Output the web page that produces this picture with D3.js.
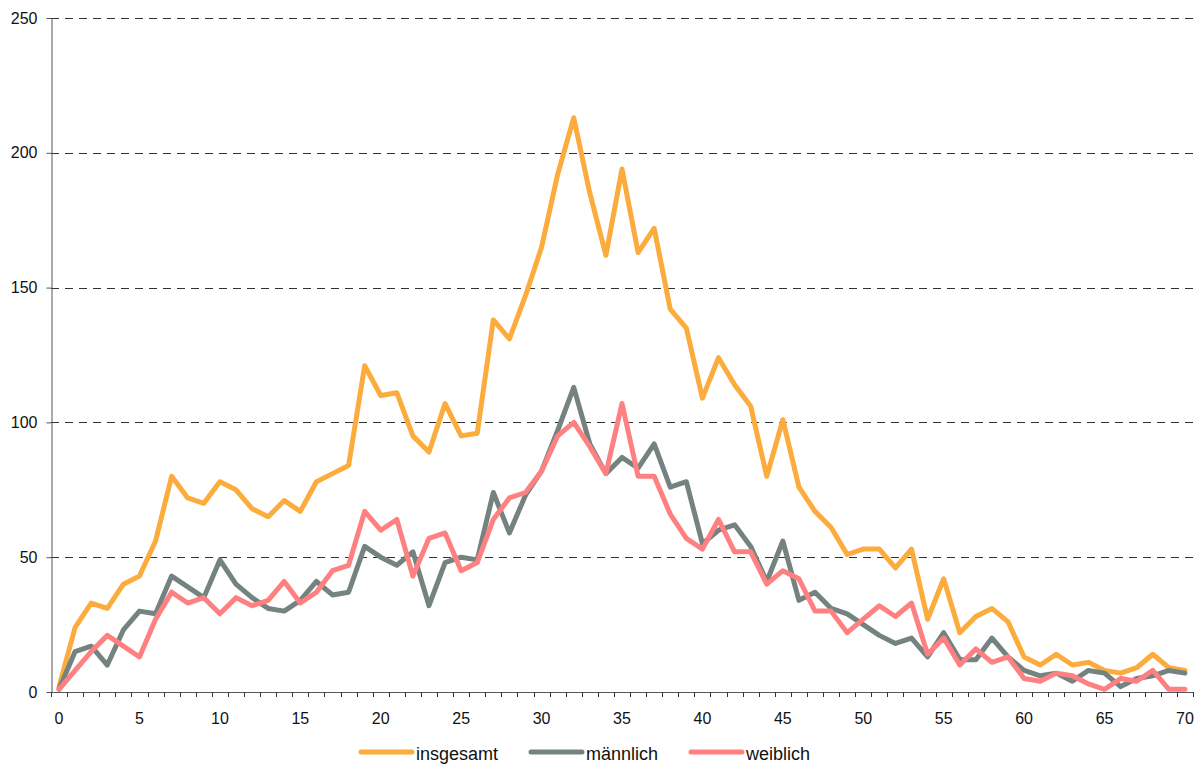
<!DOCTYPE html>
<html>
<head>
<meta charset="utf-8">
<script src="https://cdn.jsdelivr.net/npm/d3@7"></script>
<style>
  body { margin: 0; background: #fff; }
  svg { font-family: "Liberation Sans", Arial, sans-serif; }
</style>
</head>
<body>
<div class="chart"></div>
<script>
// Alter 0..70
const ages = d3.range(0, 71);

const insgesamt = [2, 24, 33, 31, 40, 43, 56, 80, 72, 70,
  78, 75, 68, 65, 71, 67, 78, 81, 84, 121,
  110, 111, 95, 89, 107, 95, 96, 138, 131, 147,
  165, 192, 213, 185, 162, 194, 163, 172, 142, 135,
  109, 124, 114, 106, 80, 101, 76, 67, 61, 51,
  53, 53, 46, 53, 27, 42, 22, 28, 31, 26,
  13, 10, 14, 10, 11, 8, 7, 9, 14, 9, 8];

const maennlich = [1, 15, 17, 10, 23, 30, 29, 43, 39, 35,
  49, 40, 35, 31, 30, 34, 41, 36, 37, 54,
  50, 47, 52, 32, 48, 50, 49, 74, 59, 73,
  82, 97, 113, 92, 81, 87, 83, 92, 76, 78,
  55, 60, 62, 54, 41, 56, 34, 37, 31, 29,
  25, 21, 18, 20, 13, 22, 12, 12, 20, 13,
  8, 6, 7, 4, 8, 7, 2, 5, 6, 8, 7];

const weiblich = [1, 8, 15, 21, 17, 13, 27, 37, 33, 35,
  29, 35, 32, 34, 41, 33, 37, 45, 47, 67,
  60, 64, 43, 57, 59, 45, 48, 64, 72, 74,
  82, 95, 100, 91, 81, 107, 80, 80, 66, 57,
  53, 64, 52, 52, 40, 45, 42, 30, 30, 22,
  27, 32, 28, 33, 14, 20, 10, 16, 11, 13,
  5, 4, 7, 6, 3, 1, 5, 4, 8, 1, 1];

const yTicks = [0, 50, 100, 150, 200, 250];

const series = [
  { name: 'insgesamt', values: insgesamt, color: '#FBAC3C' },
  { name: 'männlich', values: maennlich, color: '#748280' },
  { name: 'weiblich', values: weiblich, color: '#FF8080' }
];

const svgWidth = 1202;
const svgHeight = 765;
const plot = { left: 51, right: 1193, top: 18, bottom: 692 };

const svg = d3.select('.chart')
  .append('svg')
  .attr('width', svgWidth)
  .attr('height', svgHeight);

const x = d3.scaleBand()
  .domain(ages)
  .range([plot.left, plot.right])
  .padding(0);

const y = d3.scaleLinear()
  .domain([0, 250])
  .range([plot.bottom, plot.top]);

// gridlines
svg.append('g')
  .selectAll('line')
  .data(yTicks.filter(d => d > 0))
  .enter()
  .append('line')
  .attr('x1', plot.left)
  .attr('x2', plot.right)
  .attr('y1', d => Math.round(y(d)) + 0.5)
  .attr('y2', d => Math.round(y(d)) + 0.5)
  .attr('stroke', '#333')
  .attr('stroke-width', 1)
  .attr('stroke-dasharray', '8,6');

// y axis
const yAxis = svg.append('g')
  .attr('transform', `translate(${plot.left + 0.5},0)`)
  .call(d3.axisLeft(y).tickValues(yTicks).tickSize(5).tickPadding(9).tickSizeOuter(0));
yAxis.select('.domain').attr('stroke', '#555');
yAxis.selectAll('.tick line').attr('stroke', '#555');
yAxis.selectAll('text').style('font-size', '16px').attr('fill', '#111');

// x axis: labels every 5 (band scale already centres them)
const xAxis = svg.append('g')
  .attr('transform', `translate(0,${plot.bottom + 0.5})`)
  .call(d3.axisBottom(x).tickValues(ages.filter(d => d % 5 === 0)).tickSize(0).tickPadding(20));
xAxis.select('.domain').remove();
xAxis.selectAll('text').style('font-size', '16px').attr('fill', '#111');

svg.append('line')
  .attr('x1', plot.left)
  .attr('x2', plot.right)
  .attr('y1', plot.bottom + 0.5)
  .attr('y2', plot.bottom + 0.5)
  .attr('stroke', '#555');

// tick marks at band edges
const edges = ages.map(d => x(d)).concat([x.range()[1]]);
svg.append('g')
  .selectAll('line')
  .data(edges)
  .enter()
  .append('line')
  .attr('x1', d => Math.round(d) + 0.5)
  .attr('x2', d => Math.round(d) + 0.5)
  .attr('y1', plot.bottom)
  .attr('y2', plot.bottom + 5)
  .attr('stroke', '#333');

// lines
const line = d3.line()
  .x((d, i) => x(ages[i]) + x.bandwidth() / 2)
  .y(d => y(d));

svg.selectAll('.series')
  .data(series)
  .enter()
  .append('path')
  .attr('class', 'series')
  .attr('d', d => line(d.values))
  .attr('fill', 'none')
  .attr('stroke', d => d.color)
  .attr('stroke-width', 5)
  .attr('stroke-linejoin', 'round')
  .attr('stroke-linecap', 'round');

// legend
const legendX = [361, 531, 691];
const legend = svg.append('g')
  .selectAll('g')
  .data(series)
  .enter()
  .append('g')
  .attr('transform', (d, i) => `translate(${legendX[i]},752)`);

legend.append('line')
  .attr('x1', 0)
  .attr('x2', 51)
  .attr('stroke', d => d.color)
  .attr('stroke-width', 5)
  .attr('stroke-linecap', 'round');

legend.append('text')
  .attr('x', 55)
  .attr('y', 8)
  .text(d => d.name)
  .style('font-size', '18px')
  .attr('fill', '#111');
</script>
</body>
</html>
